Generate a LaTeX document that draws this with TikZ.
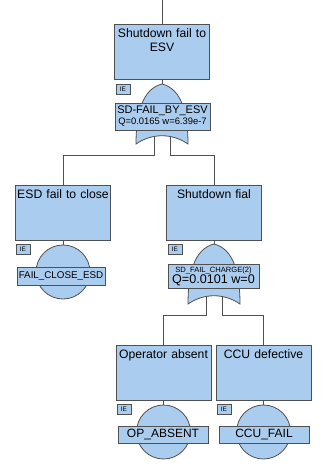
\documentclass[tikz,border=0pt]{standalone}
\usepackage{fontspec}
\setmainfont{Liberation Sans}
\definecolor{ftfill}{RGB}{170,204,238}
\definecolor{ftline}{RGB}{80,80,80}

\begin{document}
\begin{tikzpicture}[x=1pt, y=-1pt, line width=0.8pt, draw=ftline,
  every node/.style={draw=ftline, fill=ftfill, inner sep=1pt},
  evbox/.style={rectangle, minimum width=95pt, minimum height=55pt},
  evtext/.style={draw=none, fill=none, anchor=north, text width=95pt, align=center, font=\fontsize{12.2}{14}\selectfont},
  ietag/.style={rectangle, minimum width=14pt, minimum height=10pt, inner sep=0pt, font=\fontsize{6.5}{6.5}\selectfont},
  gatelbl/.style={rectangle, align=center, inner sep=0pt},
  basic/.style={circle, minimum size=54pt},
  baselbl/.style={rectangle, minimum width=90pt, minimum height=17pt, inner sep=0pt}]
  \useasboundingbox (0,0) rectangle (332,466);

  % events
  \node (top) [evbox] at (162,52) {};
  \node (toptxt) [evtext] at (162,27) {Shutdown fail to\\ESV};
  \node (esd) [evbox] at (63,212.5) {};
  \node (esdtxt) [evtext] at (63,188) {ESD fail to close};
  \node (sdf) [evbox] at (214,212.5) {};
  \node (sdftxt) [evtext] at (214,188) {Shutdown fial};
  \node (op) [evbox] at (163.5,372.5) {};
  \node (optxt) [evtext] at (163.5,348) {Operator absent};
  \node (ccu) [evbox] at (263.5,372.5) {};
  \node (ccutxt) [evtext] at (263.5,348) {CCU defective};

  % IE tags
  \node (topie) [ietag] at (123,89) {IE};
  \node (esdie) [ietag] at (23,249) {IE};
  \node (sdfie) [ietag] at (175,249) {IE};
  \node (opie) [ietag] at (124,409) {IE};
  \node (ccuie) [ietag] at (224,409) {IE};

  % gates
  \coordinate (g1) at (162,84);
  \coordinate (g2) at (214,244);
  \foreach \gx/\gy in {162/84, 214/244}
    \filldraw[fill=ftfill, shift={(\gx,\gy)}] (-26,60) .. controls (-26,30) and (-20,5) .. (0,0)
      .. controls (20,5) and (26,30) .. (26,60) .. controls (10,49) and (-10,49) .. cycle;
  \node (g1lbl) [gatelbl, minimum width=95pt, minimum height=27pt] at (162.5,116.5)
    {{\fontsize{11}{11}\selectfont SD-FAIL\_BY\_ESV}\\[-1pt]{\fontsize{9.4}{11}\selectfont Q=0.0165 w=6.39e-7}};
  \node (g2lbl) [gatelbl, minimum width=91pt, minimum height=24pt] at (213.5,276)
    {{\fontsize{7.6}{9}\selectfont SD\_FAIL\_CHARGE(2)}\\[-1pt]{\fontsize{12.6}{12}\selectfont Q=0.0101 w=0}};

  % basic events
  \node (esdc) [basic] at (63,272) {};
  \node (esdlbl) [baselbl, minimum width=88pt, minimum height=18pt, font=\fontsize{9.8}{10}\selectfont] at (61,276) {FAIL\_CLOSE\_ESD};
  \node (opc) [basic] at (163.5,432) {};
  \node (oplbl) [baselbl, font=\fontsize{12}{12}\selectfont] at (163,434.5) {OP\_ABSENT};
  \node (ccuc) [basic] at (263.5,432) {};
  \node (cculbl) [baselbl, font=\fontsize{12}{12}\selectfont] at (264,434.5) {CCU\_FAIL};

  % connectors
  \coordinate (in) at (162,0);
  \coordinate (g1l) at (154,137);
  \coordinate (g1r) at (170,137);
  \coordinate (g2l) at (206,296);
  \coordinate (g2r) at (222,296);
  \draw (in) -- (top.north);
  \draw (top.south) -- (g1);
  \draw (sdf.south) -- (g2);
  \draw (esd.south) -- (esdc.north);
  \draw (op.south) -- (opc.north);
  \draw (ccu.south) -- (ccuc.north);
  \draw (g1l) -- ++(0,18) -| (esd.north);
  \draw (g1r) -- ++(0,18) -| (sdf.north);
  \draw (g2l) -- ++(0,19) -| (op.north);
  \draw (g2r) -- ++(0,19) -| (ccu.north);
\end{tikzpicture}
\end{document}
